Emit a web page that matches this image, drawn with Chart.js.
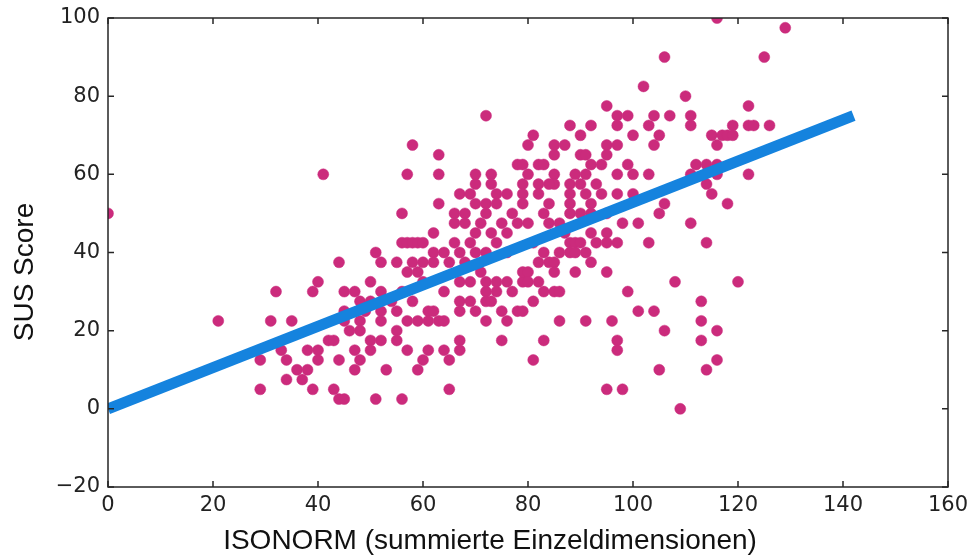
<!DOCTYPE html>
<html>
<head>
<meta charset="utf-8">
<script src="https://cdn.jsdelivr.net/npm/chart.js@4.4.0/dist/chart.umd.min.js"></script>
<style>
  html, body { margin: 0; padding: 0; background: #fff; }
  #wrap { width: 968px; height: 559px; }
</style>
</head>
<body>
<div id="wrap"><canvas id="chart"></canvas></div>
<script>
// ISONORM sum (x) and SUS score (y) per participant
const isonorm = [
  0, 21, 29, 29, 31, 32, 33, 34, 34, 35,
  36, 37, 38, 38, 39, 39, 40, 40, 40, 41,
  42, 43, 43, 44, 44, 44, 45, 45, 45, 45,
  47, 47, 47, 48, 48, 48, 48, 50, 50, 50,
  50, 51, 51, 52, 52, 52, 52, 52, 53, 55,
  55, 55, 55, 56, 56, 56, 56, 57, 57, 57,
  57, 57, 58, 58, 58, 58, 59, 59, 59, 59,
  60, 60, 60, 61, 61, 61, 62, 62, 62, 62,
  63, 63, 63, 63, 64, 64, 64, 65, 65, 65,
  66, 66, 67, 67, 67, 67, 67, 67, 67, 68,
  68, 69, 69, 69, 69, 70, 70, 70, 70, 70,
  70, 71, 72, 72, 72, 72, 72, 72, 72, 72,
  73, 73, 73, 74, 74, 74, 74, 74, 75, 75,
  75, 76, 76, 76, 76, 77, 77, 78, 78, 79,
  79, 79, 79, 79, 79, 79, 80, 80, 80, 80,
  80, 81, 81, 81, 82, 82, 82, 82, 82, 83,
  83, 83, 83, 83, 84, 84, 84, 85, 85, 85,
  85, 85, 85, 85, 86, 86, 86, 86, 87, 88,
  88, 88, 88, 88, 88, 88, 89, 89, 89, 89,
  90, 90, 90, 90, 91, 91, 91, 91, 91, 92,
  92, 92, 92, 92, 92, 93, 94, 95, 95, 95,
  95, 95, 95, 95, 95, 96, 97, 97, 97, 97,
  97, 97, 97, 97, 98, 98, 99, 99, 99, 100,
  100, 100, 101, 101, 102, 103, 103, 103, 104, 104,
  104, 105, 105, 105, 106, 106, 106, 107, 108, 109,
  110, 111, 111, 111, 111, 112, 113, 113, 113, 114,
  114, 114, 114, 115, 115, 116, 116, 116, 116, 116,
  116, 117, 118, 118, 119, 119, 120, 122, 122, 122,
  123, 125, 126, 129,
  46, 49, 54, 60, 64, 66, 68, 71, 73, 76,
  78, 81, 84, 87, 90, 93, 94
];
const susScore = [
  50, 22.5, 12.5, 5, 22.5, 30, 15, 12.5, 7.5, 22.5,
  10, 7.5, 10, 15, 30, 5, 15, 12.5, 32.5, 60,
  17.5, 17.5, 5, 12.5, 2.5, 37.5, 2.5, 30, 25, 22.5,
  30, 15, 10, 27.5, 22.5, 20, 12.5, 27.5, 32.5, 17.5,
  15, 40, 2.5, 37.5, 30, 25, 22.5, 17.5, 10, 37.5,
  25, 20, 17.5, 42.5, 30, 50, 2.5, 42.5, 35, 22.5,
  15, 60, 42.5, 37.5, 27.5, 67.5, 42.5, 35, 22.5, 10,
  42.5, 37.5, 12.5, 25, 22.5, 15, 40, 37.5, 25, 45,
  22.5, 65, 60, 52.5, 30, 22.5, 15, 37.5, 12.5, 5,
  47.5, 50, 17.5, 15, 40, 32.5, 27.5, 25, 55, 37.5,
  47.5, 42.5, 32.5, 27.5, 55, 60, 57.5, 52.5, 45, 40,
  25, 47.5, 75, 50, 52.5, 40, 32.5, 30, 27.5, 22.5,
  60, 57.5, 27.5, 55, 52.5, 42.5, 32.5, 30, 47.5, 25,
  17.5, 55, 45, 32.5, 22.5, 50, 30, 62.5, 25, 62.5,
  57.5, 55, 52.5, 32.5, 35, 25, 67.5, 60, 47.5, 35,
  32.5, 70, 27.5, 12.5, 62.5, 57.5, 55, 37.5, 32.5, 62.5,
  50, 40, 30, 17.5, 52.5, 47.5, 37.5, 67.5, 65, 60,
  57.5, 37.5, 35, 30, 47.5, 40, 30, 22.5, 67.5, 72.5,
  57.5, 55, 52.5, 50, 42.5, 40, 60, 42.5, 40, 35,
  70, 65, 57.5, 42.5, 65, 60, 55, 40, 22.5, 72.5,
  62.5, 52.5, 50, 45, 37.5, 42.5, 55, 77.5, 67.5, 65,
  50, 45, 42.5, 35, 5, 22.5, 75, 72.5, 67.5, 60,
  55, 42.5, 17.5, 15, 47.5, 5, 75, 62.5, 30, 70,
  60, 55, 47.5, 25, 82.5, 72.5, 60, 42.5, 75, 67.5,
  25, 70, 50, 10, 90, 52.5, 20, 75, 32.5, 0,
  80, 75, 72.5, 60, 47.5, 62.5, 27.5, 22.5, 17.5, 62.5,
  57.5, 42.5, 10, 70, 55, 100, 67.5, 62.5, 60, 20,
  12.5, 70, 70, 52.5, 72.5, 70, 32.5, 77.5, 72.5, 60,
  72.5, 90, 72.5, 97.5,
  20, 25, 27.5, 32.5, 40, 42.5, 50, 35, 45, 40,
  47.5, 42.5, 57.5, 45, 50, 57.5, 62.5
];

// regression line end points
const fitX = [0, 142];
const fitY = [0, 75];

const xTicks = [0, 20, 40, 60, 80, 100, 120, 140, 160];
const yTicks = [-20, 0, 20, 40, 60, 80, 100];

const xTitle = 'ISONORM (summierte Einzeldimensionen)';
const yTitle = 'SUS Score';

const TICK_LEN = 6;
const tickFont = { family: '"DejaVu Sans", sans-serif', size: 21 };

// matplotlib-style box with inward ticks on all four sides, plus axis titles
const framePlugin = {
  id: 'frame',
  afterDatasetsDraw(chart) {
    const { ctx, chartArea: a, scales: { x, y } } = chart;
    ctx.save();
    ctx.strokeStyle = '#262626';
    ctx.lineWidth = 1.5;
    ctx.strokeRect(a.left, a.top, a.right - a.left, a.bottom - a.top);
    ctx.beginPath();
    xTicks.forEach(v => {
      const px = x.getPixelForValue(v);
      ctx.moveTo(px, a.bottom); ctx.lineTo(px, a.bottom - TICK_LEN);
      ctx.moveTo(px, a.top); ctx.lineTo(px, a.top + TICK_LEN);
    });
    yTicks.forEach(v => {
      const py = y.getPixelForValue(v);
      ctx.moveTo(a.left, py); ctx.lineTo(a.left + TICK_LEN, py);
      ctx.moveTo(a.right, py); ctx.lineTo(a.right - TICK_LEN, py);
    });
    ctx.stroke();

    ctx.fillStyle = '#111';
    ctx.font = '28px "Liberation Sans", Arial, sans-serif';
    ctx.textAlign = 'center';
    ctx.textBaseline = 'middle';
    ctx.fillText(xTitle, 490, 541);
    ctx.translate(25, 272);
    ctx.rotate(-Math.PI / 2);
    ctx.fillText(yTitle, 0, 0);
    ctx.restore();
  }
};

new Chart(document.getElementById('chart'), {
  data: {
    datasets: [
      {
        type: 'line',
        data: fitX.map((v, i) => ({ x: v, y: fitY[i] })),
        borderColor: '#1583de',
        borderWidth: 11,
        borderCapStyle: 'butt',
        pointRadius: 0,
        order: 0,
      },
      {
        type: 'scatter',
        data: isonorm.map((v, i) => ({ x: v, y: susScore[i] })),
        backgroundColor: '#cb2b7c',
        borderColor: '#cb2b7c',
        borderWidth: 0.5,
        pointRadius: 5.5,
        order: 1,
      },
    ]
  },
  options: {
    responsive: true,
    maintainAspectRatio: false,
    animation: false,
    layout: { padding: { top: 18, right: 20, left: 0, bottom: 0 } },
    plugins: {
      legend: { display: false },
      tooltip: { enabled: false },
    },
    scales: {
      x: {
        type: 'linear',
        min: 0,
        max: 160,
        afterFit: (s) => { s.height = 72; s.paddingLeft = 0; s.paddingRight = 0; },
        grid: { display: false, drawTicks: false },
        border: { display: false },
        ticks: { stepSize: 20, font: tickFont, color: '#222', padding: 6, maxRotation: 0 },
      },
      y: {
        type: 'linear',
        min: -20,
        max: 100,
        afterFit: (s) => { s.width = 108; s.paddingTop = 0; s.paddingBottom = 0; },
        grid: { display: false, drawTicks: false },
        border: { display: false },
        ticks: {
          stepSize: 20,
          font: tickFont,
          color: '#222',
          padding: 8,
          callback: (v) => v < 0 ? '\u2212' + Math.abs(v) : String(v),
        },
      },
    },
  },
  plugins: [framePlugin],
});
</script>
</body>
</html>
